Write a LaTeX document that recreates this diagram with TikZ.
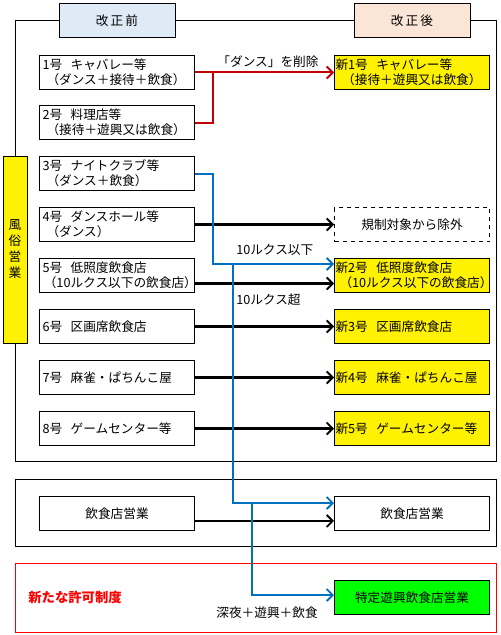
\documentclass[tikz,border=0pt]{standalone}
\usepackage{fontspec}
\setmainfont{Noto Sans CJK JP}
\usetikzlibrary{arrows.meta}
\definecolor{hdrblue}{HTML}{DEEBF7}
\definecolor{hdrpeach}{HTML}{FBE5D6}
\definecolor{arrblue}{HTML}{0070C0}
\definecolor{arrred}{HTML}{C00000}
\definecolor{brightgreen}{HTML}{00FF00}
\newcommand{\secline}[2]{\mbox{\hspace{#1}#2}}
\begin{document}
\begin{tikzpicture}[x=0.75pt,y=-0.75pt,font=\fontsize{9.5}{11.25}\selectfont]
\tikzset{
  lbox/.style={draw, line width=0.75pt, minimum height=25.5pt, text width=111.75pt, inner xsep=2.25pt, inner ysep=1pt, align=left, anchor=north west},
  ybox/.style={lbox, fill=yellow, inner xsep=0.75pt, text width=114.75pt},
  cbox/.style={draw, line width=0.75pt, minimum width=116.25pt, minimum height=25.5pt, align=center, anchor=north west, inner sep=0pt},
  hdr/.style={draw, line width=0.75pt, minimum width=87pt, minimum height=25.5pt, inner sep=0pt},
  tip/.style={-{Straight Barb[length=4.5pt,width=9pt,line width=1.4pt]}},
  blk/.style={draw=black, line width=1.6pt, tip},
  bluearr/.style={draw=arrblue, line width=1.5pt, tip},
  redarr/.style={draw=arrred, line width=1.5pt, tip},
  redline/.style={draw=arrred, line width=1.5pt},
  lbl/.style={inner sep=0pt}
}
\useasboundingbox (0,0) rectangle (500,635);
\fill[white] (0,0) rectangle (500,635);
% frames
\draw[line width=0.75pt] (15,21) rectangle (496,461);
\draw[line width=0.75pt] (15,479) rectangle (496,546);
\draw[line width=0.75pt, draw=red] (15,563) rectangle (496,632);
% headers
\node[hdr, fill=hdrblue] (h1) at (117,21) {改\,正\,前};
\node[hdr, fill=hdrpeach] (h2) at (412,21) {改\,正\,後};
% side label
\node[draw, line width=0.75pt, fill=yellow, minimum width=18pt, minimum height=140.25pt, inner sep=0pt, align=center, font=\fontsize{9.5}{12}\selectfont] (fz) at (15,249.5) {風\\俗\\営\\業};
% left boxes
\node[lbox] (b1) at (39,55) {1号\ \ キャバレー等\\\secline{3pt}{（ダンス＋接待＋飲食）}};
\node[lbox] (b2) at (39,105) {2号\ \ 料理店等\\\secline{3pt}{（接待＋遊興又は飲食）}};
\node[lbox] (b3) at (39,156) {3号\ \ ナイトクラブ等\\\secline{3pt}{（ダンス＋飲食）}};
\node[lbox] (b4) at (39,207) {4号\ \ ダンスホール等\\\secline{3pt}{（ダンス）}};
\node[lbox] (b5) at (39,258) {5号\ \ 低照度飲食店\\\secline{1pt}{（10ルクス以下の飲食店）}};
\node[lbox] (b6) at (39,309) {6号\ \ 区画席飲食店};
\node[lbox] (b7) at (39,360) {7号\ \ 麻雀・ぱちんこ屋};
\node[lbox] (b8) at (39,411) {8号\ \ ゲームセンター等};
\node[cbox] (e1) at (39,496) {飲食店営業};
% right boxes
\node[ybox] (n1) at (334,55) {新1号\ \ キャバレー等\\\secline{5pt}{（接待＋遊興又は飲食）}};
\node[cbox, dashed] (n0) at (334,207) {規制対象から除外};
\node[ybox] (n2) at (334,258) {新2号\ \ 低照度飲食店\\\secline{3pt}{（10ルクス以下の飲食店）}};
\node[ybox] (n3) at (334,309) {新3号\ \ 区画席飲食店};
\node[ybox] (n4) at (334,360) {新4号\ \ 麻雀・ぱちんこ屋};
\node[ybox] (n5) at (334,411) {新5号\ \ ゲームセンター等};
\node[cbox] (e2) at (334,496) {飲食店営業};
\node[cbox, fill=brightgreen] (g) at (334,580) {特定遊興飲食店営業};
% labels
\node[lbl] (l1) at (268,62) {「ダンス」を削除};
\node[lbl, anchor=west] (l2) at (236,250) {10ルクス以下};
\node[lbl, anchor=west] (l3) at (236,300) {10ルクス超};
\node[lbl] (l4) at (267,613) {深夜＋遊興＋飲食};
\node[lbl, text=red, font=\fontsize{10}{11}\bfseries] (l5) at (75,597) {新たな許可制度};
% red connectors
\coordinate (rj) at (213,71.5);
\draw[redline] (b2.east) -| (rj);
\draw[redarr] (b1.east) -- (n1.west);
% black connectors
\draw[blk] (b4.east) -- (n0.west);
\draw[blk] ([yshift=-6pt]b5.east) -- ([yshift=-6pt]n2.west);
\draw[blk] (b6.east) -- (n3.west);
\draw[blk] (b7.east) -- (n4.west);
\draw[blk] (b8.east) -- (n5.west);
\draw[blk] ([yshift=-5.6pt]e1.east) -- ([yshift=-5.6pt]e2.west);
% blue connectors
\coordinate (bj1) at (213,264);
\coordinate (bj2) at (233,264);
\coordinate (bj3) at (233,503);
\coordinate (bj4) at (252,503);
\coordinate (bj5) at (252,595);
\draw[bluearr] (b3.east) -| (bj1) -- (n2.west |- bj1);
\draw[bluearr] (bj2) -- (bj3) -- (e2.west |- bj3);
\draw[bluearr] (bj4) -- (bj5) -- (g.west |- bj5);
\end{tikzpicture}
\end{document}
